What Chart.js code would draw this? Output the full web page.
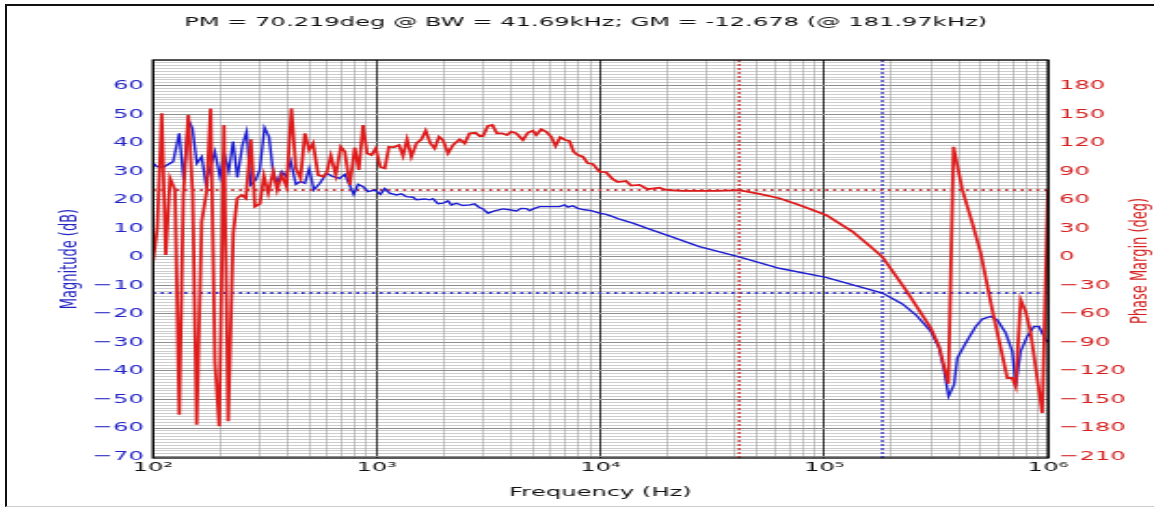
<!DOCTYPE html>
<html>
<head>
<meta charset="utf-8">
<script src="https://cdn.jsdelivr.net/npm/chart.js@4.4.1/dist/chart.umd.min.js"></script>
<style>
  html, body { margin: 0; padding: 0; background: #fff; }
  #wrap { position: relative; width: 1154px; height: 508px; overflow: hidden; }
  #edge { position: absolute; left: 5px; top: 4px; right: -4px; bottom: 1px; border: 2px solid #111; border-bottom: 1px solid #ccc; pointer-events: none; }
</style>
</head>
<body>
<div id="wrap">
  <!-- drawn narrow and stretched sideways, like the original screenshot -->
  <canvas id="plot" width="620" height="508" style="width:1154px;height:508px"></canvas>
  <div id="edge"></div>
</div>
<script>
// Bode plot: loop magnitude (left) and phase margin (right)
const DECADES = [1e2, 1e3, 1e4, 1e5, 1e6];
const MAG_TICKS = [-70, -60, -50, -40, -30, -20, -10, 0, 10, 20, 30, 40, 50, 60];
const PHASE_TICKS = [-210, -180, -150, -120, -90, -60, -30, 0, 30, 60, 90, 120, 150, 180];
const Y_MIN = -70.5, Y_MAX = 69;

const PM_DEG = 70.219;
const BW_HZ = 41690;
const GM_DB = -12.678;
const GM_HZ = 181970;

const FREQ_MAG = [
    100, 104, 111, 123, 131, 137, 144, 150, 157, 165,
    172, 189, 199, 208, 218, 228, 238, 251, 262, 273,
    288, 300, 315, 330, 344, 359, 376, 393, 412, 435,
    456, 477, 499, 523, 557, 596, 638, 684, 720, 758,
    789, 825, 869, 915, 980, 1039, 1086, 1143, 1224, 1290,
    1357, 1453, 1504, 1638, 1725, 1784, 1878, 1977, 2082, 2156,
    2269, 2428, 2601, 2739, 2862, 2983, 3140, 3364, 3664, 3926,
    4206, 4426, 4660, 4819, 5074, 5342, 5920, 6561, 6907, 7145,
    7522, 7918, 8484, 9090, 9897, 10600, 11350, 12160, 13940, 16550,
    19650, 27670, 41690, 62950, 101800, 143300, 181970, 223700, 256700, 299500,
    326200, 343300, 359500, 380500, 393600, 429100, 475600, 509000, 555000, 593700,
    647500, 692800, 717500, 755300, 808300, 866000, 911400, 976600, 1000000
];
const MAG_DB = [
    32.9, 31.6, 31.4, 33.4, 43.3, 27.0, 48.0, 45.0, 32.8, 35.1,
    25.8, 36.9, 28.1, 36.3, 30.1, 40.4, 27.8, 39.2, 43.9, 25.2,
    27.0, 30.5, 45.3, 42.1, 29.9, 25.8, 29.9, 28.1, 33.6, 25.4,
    26.4, 25.8, 31.0, 23.5, 25.8, 29.3, 28.1, 27.5, 28.9, 25.0,
    21.9, 25.4, 24.6, 22.9, 23.5, 21.9, 23.9, 22.3, 21.7, 22.1,
    21.1, 20.9, 20.0, 20.3, 20.0, 20.4, 18.6, 18.8, 19.6, 18.2,
    18.8, 18.0, 18.2, 18.6, 17.4, 16.8, 15.3, 16.1, 16.8, 16.5,
    16.1, 17.0, 16.9, 16.2, 17.0, 17.6, 17.6, 17.6, 18.2, 17.4,
    17.9, 17.0, 16.5, 16.2, 15.3, 14.9, 14.1, 13.2, 11.8, 9.7,
    7.7, 3.6, 0, -4.0, -7.2, -10.4, -12.7, -16.5, -20.3, -26.1,
    -32.0, -39.6, -48.9, -44.8, -35.5, -30.2, -24.4, -21.8, -20.9, -22.1,
    -26.7, -33.1, -45.4, -33.1, -27.9, -24.4, -24.4, -29.1, -29.8
];

const FREQ_PH = [
    100, 104.5, 109.4, 114, 119.1, 125.4, 131, 136.6, 143.8, 150.4,
    156.7, 165, 173.6, 180.9, 189.2, 197.7, 207.5, 216.8, 228.3, 237.8,
    248.9, 260.1, 273.8, 285.4, 300.4, 313, 327.1, 344.4, 358.9, 375.5,
    395.4, 415.3, 434.9, 456.4, 477, 498.5, 519.4, 547, 575.9, 596.3,
    623.2, 656.1, 690.8, 719.6, 757.7, 797.6, 831.2, 868.5, 905, 946.9,
    989.8, 1037, 1086, 1134, 1191, 1258, 1310, 1366, 1428, 1504,
    1584, 1655, 1737, 1815, 1897, 1977, 2082, 2191, 2347, 2471,
    2601, 2767, 2883, 2983, 3140, 3285, 3444, 3640, 3817, 3995,
    4206, 4499, 4736, 4986, 5163, 5436, 5723, 6025, 6297, 6608,
    6957, 7271, 7578, 7918, 8337, 8777, 9240, 9897, 10600, 11350,
    11950, 13020, 13710, 14940, 16260, 18340, 19650, 23300, 32850, 41690,
    51270, 62950, 77330, 101800, 133800, 164300, 181970, 231600, 299500, 326200,
    358800, 378500, 414400, 459400, 500600, 564000, 658200, 692800, 717500, 755300,
    795000, 837300, 943200, 1000000
];
const PHASE_DEG = [
    -4.9, 30.1, 150.9, 2.1, 82.6, 70.4, -165.9, 65.1, 149.1, 65.1,
    -176.4, 37.1, 68.6, 156.1, -111.6, -178.2, 138.6, -172.9, 24.9, 61.6,
    65.1, 61.6, 123.6, 52.8, 55.7, 85.1, 66.9, 89.6, 70.4, 86.1,
    73.8, 156.1, 93.1, 82.6, 129.9, 112.4, 119.4, 86.1, 84.3, 87.9,
    106.4, 86.1, 115.8, 110.6, 75.6, 114.8, 91.4, 138.6, 108.9, 107.1,
    114.1, 94.5, 93.1, 115.8, 115.2, 117.6, 106.1, 123.6, 105.3, 119.4,
    123.6, 132.6, 119.4, 114.1, 126.3, 122.9, 108.9, 117.6, 123.6, 119.4,
    129.9, 130.5, 127.1, 127.1, 137.6, 138.6, 129.9, 129.9, 128.1, 131.6,
    129.9, 122.9, 130.5, 132.6, 128.1, 134.1, 131.6, 126.3, 116.6, 125.7,
    122.9, 121.8, 110.6, 107.1, 105.3, 98.4, 97.7, 89.6, 89.0, 81.6,
    78.8, 79.8, 74.9, 75.6, 71.1, 72.8, 70.4, 69.3, 69.3, 70.2,
    66.2, 61.6, 54.6, 44.1, 26.6, 9.1, 0, -34.7, -74.9, -94.2,
    -133.4, 115.8, 70.4, 35.4, 3.9, -55.7, -127.4, -127.4, -136.2, -45.2,
    -57.4, -80.1, -164.1, 70.4
];

const BLUE = '#1c1cd2', RED = '#e01b1b';
const BLUE_TXT = '#2424c4', RED_TXT = '#d42222';
const FONT = { family: '"DejaVu Sans"', size: 13 };
const TITLE = `PM = ${PM_DEG}deg @ BW = ${BW_HZ / 1000}kHz; GM = ${GM_DB} (@ ${GM_HZ / 1000}kHz)`;

// grid positions: 1..9 per decade, 1 dB steps
const X_GRID = [];
DECADES.slice(0, -1).forEach(d => { for (let m = 1; m < 10; m++) X_GRID.push(d * m); });
X_GRID.push(1e6);
const Y_GRID = [];
for (let v = -70; v <= 69; v++) Y_GRID.push(v);

const SUP = { 2: '\u00b2', 3: '\u00b3', 4: '\u2074', 5: '\u2075', 6: '\u2076' };
const isDecade = v => DECADES.includes(v);
const fixTicks = vals => scale => { scale.ticks = vals.map(v => ({ value: v })); };
const minus = v => (v < 0 ? '\u2212' + Math.abs(v) : String(v));
const pairs = (xs, ys) => xs.map((x, i) => ({ x, y: ys[i] }));

const decor = {
    id: 'decor',
    afterDatasetsDraw(chart) {
        const { ctx, chartArea: a } = chart;
        ctx.save();
        ctx.strokeStyle = '#000';
        ctx.lineWidth = 1.3;
        ctx.strokeRect(a.left, a.top, a.right - a.left, a.bottom - a.top);
        ctx.restore();
    },
    afterDraw(chart) {
        const ctx = chart.ctx;
        ctx.save();
        ctx.font = '13px "DejaVu Sans"';
        ctx.textAlign = 'center';
        ctx.textBaseline = 'middle';
        ctx.fillStyle = '#111';
        ctx.fillText(TITLE, 314.6, 23);
        ctx.translate(612.8, 261);
        ctx.rotate(-Math.PI / 2);
        ctx.fillStyle = RED_TXT;
        ctx.fillText('Phase Margin (deg)', 0, 0);
        ctx.restore();
    }
};

const dotted = (color, width, dash) => ({ borderColor: color, borderWidth: width, borderDash: dash, pointRadius: 0, tension: 0 });

new Chart(document.getElementById('plot'), {
    type: 'line',
    data: {
        datasets: [
            { label: 'Phase Margin', data: pairs(FREQ_PH, PHASE_DEG), yAxisID: 'y2', borderColor: RED, borderWidth: 1.8, pointRadius: 0, tension: 0 },
            { label: 'Magnitude', data: pairs(FREQ_MAG, MAG_DB), yAxisID: 'y', borderColor: BLUE, borderWidth: 1.4, pointRadius: 0, tension: 0 },
            { label: 'PM', data: [{ x: DECADES[0], y: PM_DEG }, { x: DECADES[4], y: PM_DEG }], yAxisID: 'y2', ...dotted('#c83636', 2, [1.6, 2.6]) },
            { label: 'BW', data: [{ x: BW_HZ, y: Y_MIN }, { x: BW_HZ, y: Y_MAX }], yAxisID: 'y', ...dotted('#c83636', 1.4, [2, 2]) },
            { label: 'GM', data: [{ x: DECADES[0], y: GM_DB }, { x: DECADES[4], y: GM_DB }], yAxisID: 'y', ...dotted('#3636c8', 2, [1.6, 2.6]) },
            { label: 'GM freq', data: [{ x: GM_HZ, y: Y_MIN }, { x: GM_HZ, y: Y_MAX }], yAxisID: 'y', ...dotted('#3636c8', 1.4, [2, 2]) }
        ]
    },
    options: {
        responsive: false,
        devicePixelRatio: 1,
        animation: false,
        layout: { padding: { top: 60, left: 0, right: 0, bottom: 0 }, autoPadding: false },
        plugins: { legend: { display: false }, title: { display: false }, tooltip: { enabled: false } },
        scales: {
            x: {
                type: 'logarithmic', position: 'bottom', min: 1e2, max: 1e6,
                afterBuildTicks: fixTicks(X_GRID),
                afterFit: s => { s.height = 50; },
                ticks: {
                    autoSkip: false, maxRotation: 0, padding: 2, color: '#111', font: FONT,
                    callback: v => (isDecade(v) ? '10' + SUP[Math.round(Math.log10(v))] : '')
                },
                grid: {
                    drawTicks: false,
                    color: c => (c.tick && isDecade(c.tick.value) ? '#000' : '#a2a2a2'),
                    lineWidth: c => (c.tick && isDecade(c.tick.value) ? 0.8 : 0.6)
                },
                border: { display: false },
                title: { display: true, text: 'Frequency (Hz)', color: '#111', font: FONT, padding: { top: 0, bottom: 8 } }
            },
            y: {
                type: 'linear', position: 'left', min: Y_MIN, max: Y_MAX,
                afterBuildTicks: fixTicks(MAG_TICKS),
                afterFit: s => { s.width = 82.2; },
                ticks: { color: BLUE_TXT, font: FONT, padding: 5, callback: minus },
                grid: { drawTicks: false, color: '#8e8e8e', lineWidth: 1 },
                border: { display: false },
                title: { display: true, text: 'Magnitude (dB)', color: BLUE_TXT, font: FONT, padding: { top: 30, bottom: 0 } }
            },
            yMinor: {
                type: 'linear', position: 'left', min: Y_MIN, max: Y_MAX,
                afterBuildTicks: fixTicks(Y_GRID),
                afterFit: s => { s.width = 0; },
                ticks: { display: false },
                grid: { drawTicks: false, color: '#cdcdcd', lineWidth: 1, z: -2 },
                border: { display: false }
            },
            y2: {
                type: 'linear', position: 'right', min: Y_MIN * 3, max: Y_MAX * 3,
                afterBuildTicks: fixTicks(PHASE_TICKS),
                afterFit: s => { s.width = 57; },
                ticks: { color: RED_TXT, font: FONT, padding: 6, callback: minus },
                grid: { drawOnChartArea: false, drawTicks: false },
                border: { display: false }
            }
        }
    },
    plugins: [decor]
});
</script>
</body>
</html>
